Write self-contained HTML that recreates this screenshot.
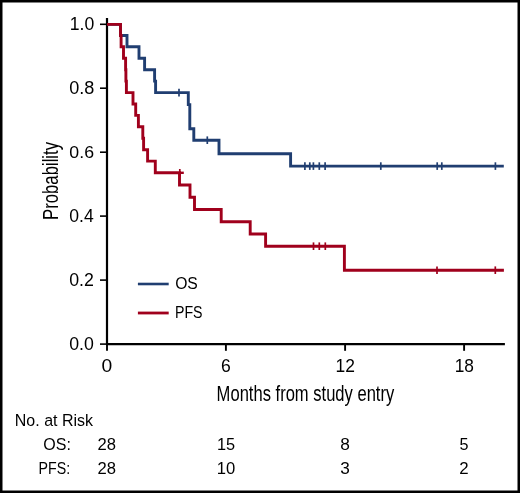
<!DOCTYPE html>
<html><head><meta charset="utf-8"><style>
html,body{margin:0;padding:0;background:#fff;}
svg{display:block;will-change:transform;}
text{font-family:"Liberation Sans",sans-serif;fill:#000;}
</style></head><body>
<svg width="520" height="493" viewBox="0 0 520 493">
<rect x="0" y="0" width="520" height="493" fill="#000"/>
<rect x="2.5" y="2.5" width="515" height="488" fill="#fff"/>
<g stroke="#000" fill="none">
<line x1="107" y1="18" x2="107" y2="345" stroke-width="2.2"/>
<line x1="106" y1="344.1" x2="504.9" y2="344.1" stroke-width="2.3"/>
<g stroke-width="1.6">
<line x1="100" y1="24.3" x2="107" y2="24.3"/>
<line x1="100" y1="88.2" x2="107" y2="88.2"/>
<line x1="100" y1="152.2" x2="107" y2="152.2"/>
<line x1="100" y1="216.1" x2="107" y2="216.1"/>
<line x1="100" y1="280.1" x2="107" y2="280.1"/>
<line x1="100" y1="344.1" x2="107" y2="344.1"/>
</g>
<g stroke-width="1.9">
<line x1="107" y1="344" x2="107" y2="350.8"/>
<line x1="225.9" y1="344" x2="225.9" y2="350.8"/>
<line x1="345.1" y1="344" x2="345.1" y2="350.8"/>
<line x1="464.1" y1="344" x2="464.1" y2="350.8"/>
</g>
</g>
<g fill="none" stroke-width="2.9" stroke-linejoin="miter" stroke-linecap="butt">
<path stroke="#203e71" d="M107,24.4 H120.5 V35.5 H127 V46.8 H139 V58.3 H144.6 V69.8 H154.6 V81.1 H155.6 V92.6 H188.3 V104.6 H189.8 V128.8 H193.8 V140.2 H219 V153.8 H290.6 V166.1 H503.8"/>
<path stroke="#a0001c" d="M107,24.4 H120.5 V35.5 H121.1 V46.8 H123.5 V58.3 H125.6 V69.8 H125.9 V81.1 H126.4 V92.6 H133 V104.0 H135.7 V115.4 H138.4 V126.8 H142.8 V138.3 H143.6 V149.7 H147.6 V161.1 H155.3 V172.8 H179.5 V185.0 H190 V197.3 H194.5 V209.5 H221.2 V221.8 H250.2 V234.0 H265.6 V246.2 H344.4 V270.2 H503.9"/>
<path stroke="#a0001c" d="M179.5,172.8 H183.8" stroke-width="2.4"/>
</g>
<g stroke-width="1.7" fill="none">
<line x1="179" y1="88.8" x2="179" y2="96.4" stroke="#203e71"/>
<line x1="207.3" y1="136.4" x2="207.3" y2="144.0" stroke="#203e71"/>
<line x1="304.9" y1="162.3" x2="304.9" y2="169.9" stroke="#203e71"/>
<line x1="309.8" y1="162.3" x2="309.8" y2="169.9" stroke="#203e71"/>
<line x1="313.4" y1="162.3" x2="313.4" y2="169.9" stroke="#203e71"/>
<line x1="319.3" y1="162.3" x2="319.3" y2="169.9" stroke="#203e71"/>
<line x1="325.1" y1="162.3" x2="325.1" y2="169.9" stroke="#203e71"/>
<line x1="380.8" y1="162.3" x2="380.8" y2="169.9" stroke="#203e71"/>
<line x1="437.2" y1="162.3" x2="437.2" y2="169.9" stroke="#203e71"/>
<line x1="441.8" y1="162.3" x2="441.8" y2="169.9" stroke="#203e71"/>
<line x1="495.4" y1="162.3" x2="495.4" y2="169.9" stroke="#203e71"/>
<line x1="179.8" y1="169.0" x2="179.8" y2="176.6" stroke="#a0001c"/>
<line x1="313.5" y1="242.4" x2="313.5" y2="250.0" stroke="#a0001c"/>
<line x1="319.3" y1="242.4" x2="319.3" y2="250.0" stroke="#a0001c"/>
<line x1="325.3" y1="242.4" x2="325.3" y2="250.0" stroke="#a0001c"/>
<line x1="437" y1="266.4" x2="437" y2="274.0" stroke="#a0001c"/>
<line x1="495.3" y1="266.4" x2="495.3" y2="274.0" stroke="#a0001c"/>
</g>
<line x1="137.9" y1="284" x2="168.7" y2="284" stroke="#203e71" stroke-width="2.6"/>
<line x1="137.9" y1="313" x2="168.7" y2="313" stroke="#a0001c" stroke-width="2.8"/>
<text transform="translate(175.16,289.00) scale(0.9803,1)" font-size="16.02">OS</text>
<text transform="translate(175.00,318.00) scale(0.8712,1)" font-size="16.30">PFS</text>
<text transform="translate(69.72,30.00) scale(1.0067,1)" font-size="17.54">1.0</text>
<text transform="translate(69.13,94.00) scale(1.0317,1)" font-size="17.54">0.8</text>
<text transform="translate(69.36,158.00) scale(1.0198,1)" font-size="17.39">0.6</text>
<text transform="translate(69.25,222.00) scale(1.0032,1)" font-size="17.54">0.4</text>
<text transform="translate(69.15,286.00) scale(1.0055,1)" font-size="17.68">0.2</text>
<text transform="translate(69.15,350.00) scale(1.0032,1)" font-size="17.68">0.0</text>
<text transform="translate(101.49,372.00) scale(1.0824,1)" font-size="17.82">0</text>
<text transform="translate(221.04,372.00) scale(0.9791,1)" font-size="17.96">6</text>
<text transform="translate(335.47,372.00) scale(0.9690,1)" font-size="18.00">12</text>
<text transform="translate(454.68,372.00) scale(0.9634,1)" font-size="17.96">18</text>
<text transform="translate(216.62,400.5) scale(0.7705,1)" font-size="21.5">Months from study entry</text>
<text transform="translate(57.8,220.0) rotate(-90) scale(0.7787,1)" font-size="21.5">Probability</text>
<text transform="translate(14.83,426.00) scale(0.9958,1)" font-size="16.06">No. at Risk</text>
<text transform="translate(43.28,450.00) scale(0.9585,1)" font-size="16.73">OS:</text>
<text transform="translate(38.61,474.00) scale(0.8654,1)" font-size="16.44">PFS:</text>
<text transform="translate(97.42,450.00) scale(1.0015,1)" font-size="16.58">28</text>
<text transform="translate(216.88,450.00) scale(0.9744,1)" font-size="16.77">15</text>
<text transform="translate(340.22,450.00) scale(1.0452,1)" font-size="16.58">8</text>
<text transform="translate(459.48,450.00) scale(0.9651,1)" font-size="16.77">5</text>
<text transform="translate(97.43,474.00) scale(0.9941,1)" font-size="16.73">28</text>
<text transform="translate(216.85,474.00) scale(0.9970,1)" font-size="16.73">10</text>
<text transform="translate(340.36,474.00) scale(1.0286,1)" font-size="16.73">3</text>
<text transform="translate(459.33,474.00) scale(0.9967,1)" font-size="16.91">2</text>
</svg>
</body></html>
